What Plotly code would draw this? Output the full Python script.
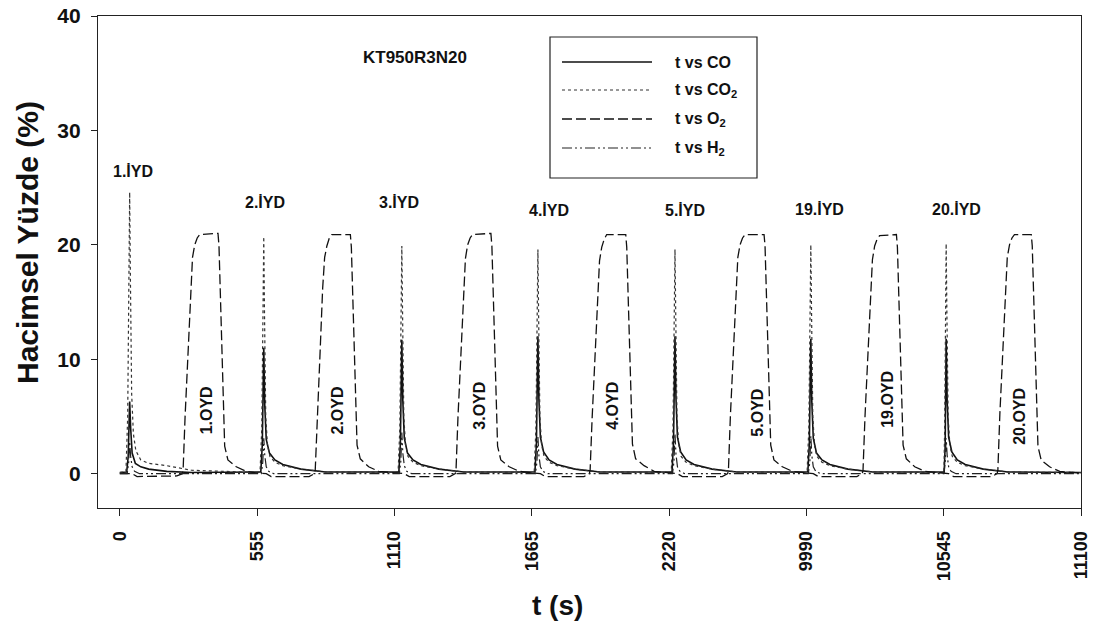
import plotly.graph_objects as go

# ---------------- data ----------------
cycle_no = [1, 2, 3, 4, 5, 19, 20]
cycle_start = [0, 555, 1110, 1665, 2220, 9990, 10545]   # real time, s

# CO (solid) – time within cycle (s) and volume %
co_t = [
    [0, 28, 34, 40, 44, 50, 63, 85, 117, 190, 290, 555],
    [0, 15, 21, 27, 31, 37, 50, 72, 104, 177, 277, 555],
    [0, 18, 24, 30, 34, 40, 53, 75, 107, 180, 280, 555],
    [0, 13, 19, 25, 29, 35, 48, 70, 102, 175, 275, 555],
    [0, 12, 18, 24, 28, 34, 47, 69, 101, 174, 274, 555],
    [0, 6, 12, 18, 22, 28, 41, 63, 95, 168, 268, 555],
    [0, 2, 6, 10, 14, 20, 33, 55, 87, 160, 260, 555],
]
co_v = [
    [0.1, 0.15, 1.5, 6.3, 4.0, 1.8, 0.9, 0.6, 0.4, 0.2, 0.1, 0.1],
    [0.1, 0.15, 2.5, 11.0, 6.0, 3.0, 1.8, 1.2, 0.8, 0.4, 0.15, 0.1],
    [0.1, 0.15, 2.6, 11.7, 6.4, 3.1, 1.8, 1.2, 0.8, 0.4, 0.15, 0.1],
    [0.1, 0.15, 2.7, 12.0, 6.5, 3.2, 1.9, 1.2, 0.8, 0.4, 0.15, 0.1],
    [0.1, 0.15, 2.7, 12.0, 6.6, 3.2, 1.9, 1.2, 0.8, 0.4, 0.15, 0.1],
    [0.1, 0.15, 2.6, 11.8, 6.3, 3.1, 1.8, 1.2, 0.8, 0.4, 0.15, 0.1],
    [0.1, 0.15, 2.4, 11.8, 6.4, 3.2, 1.9, 1.2, 0.8, 0.4, 0.15, 0.1],
]

# CO2 (dotted)
co2_t = [
    [0, 25, 32, 37, 40, 43, 48, 55, 65, 85, 117, 190, 290, 555],
    [0, 12, 19, 24, 27, 30, 35, 42, 52, 72, 104, 177, 277, 555],
    [0, 15, 22, 27, 30, 33, 38, 45, 55, 75, 107, 180, 280, 555],
    [0, 10, 17, 22, 25, 28, 33, 40, 50, 70, 102, 175, 275, 555],
    [0, 9, 16, 21, 24, 27, 32, 39, 49, 69, 101, 174, 274, 555],
    [0, 3, 10, 15, 18, 21, 26, 33, 43, 63, 95, 168, 268, 555],
    [0, 1, 4, 7, 10, 13, 18, 25, 35, 55, 87, 160, 260, 555],
]
co2_v = [
    [0.1, 0.2, 5, 17, 24.6, 17, 7, 3.5, 2.0, 1.2, 0.9, 0.7, 0.3, 0.1],
    [0.1, 0.15, 4, 14, 20.7, 14, 5, 2.5, 1.5, 1.0, 0.7, 0.4, 0.15, 0.1],
    [0.1, 0.15, 4, 14, 19.9, 14, 5, 2.5, 1.5, 1.0, 0.7, 0.4, 0.15, 0.1],
    [0.1, 0.15, 4, 14, 19.6, 13.5, 5, 2.5, 1.5, 1.0, 0.7, 0.4, 0.15, 0.1],
    [0.1, 0.15, 4, 14, 19.6, 14, 5, 2.6, 1.5, 1.0, 0.7, 0.4, 0.15, 0.1],
    [0.1, 0.15, 4, 14, 20.0, 14, 5, 2.5, 1.5, 1.0, 0.7, 0.4, 0.15, 0.1],
    [0.1, 0.15, 4, 14, 20.1, 14, 5, 2.5, 1.5, 1.0, 0.7, 0.4, 0.15, 0.1],
]

# O2 (dashed)
o2_t = [
    [0, 50, 70, 231, 253, 256, 264, 276, 286, 294, 303, 313, 323, 397, 401, 409, 417, 424, 437, 471, 512, 555],
    [0, 37, 57, 210, 232, 235, 243, 255, 265, 273, 282, 292, 302, 377, 381, 389, 397, 404, 417, 451, 492, 555],
    [0, 40, 60, 224, 246, 249, 257, 269, 279, 287, 296, 306, 316, 390, 394, 402, 410, 417, 430, 464, 505, 555],
    [0, 35, 55, 211, 233, 236, 244, 256, 266, 274, 283, 293, 303, 380, 384, 392, 400, 407, 420, 454, 495, 555],
    [0, 34, 54, 215, 237, 240, 248, 260, 270, 278, 287, 297, 307, 384, 388, 396, 404, 411, 424, 458, 499, 555],
    [0, 28, 48, 204, 226, 229, 237, 249, 259, 267, 276, 286, 296, 364, 368, 376, 384, 391, 404, 438, 479, 555],
    [0, 20, 40, 194, 216, 219, 227, 239, 249, 257, 266, 276, 286, 354, 358, 366, 374, 381, 394, 428, 469, 555],
]
o2_v = [
    [0, 0, -0.25, -0.2, 0, 0.3, 5.0, 10.5, 16.0, 18.9, 20.0, 20.6, 20.9, 21.0, 19.9, 14.0, 7.6, 2.4, 1.2, 0.6, 0.2, 0.05],
    [0.05, 0, -0.25, -0.25, 0, 0.3, 5.2, 10.8, 16.2, 18.9, 19.9, 20.6, 20.9, 20.9, 19.8, 13.5, 7.4, 2.5, 1.3, 0.6, 0.2, 0.05],
    [0.05, 0, -0.25, -0.25, 0, 0.3, 5.0, 10.6, 16.0, 18.8, 20.0, 20.6, 20.9, 21.0, 19.9, 13.8, 7.5, 2.4, 1.2, 0.6, 0.2, 0.05],
    [0.05, 0, -0.25, -0.25, 0, 0.3, 4.8, 10.2, 15.6, 18.6, 19.8, 20.5, 20.9, 20.9, 19.8, 13.6, 7.6, 2.6, 1.3, 0.7, 0.2, 0.05],
    [0.05, 0, -0.25, -0.25, 0, 0.3, 5.1, 10.7, 16.1, 18.9, 20.0, 20.6, 20.9, 20.9, 19.9, 13.9, 7.5, 2.5, 1.2, 0.6, 0.2, 0.05],
    [0.05, 0, -0.25, -0.25, 0, 0.3, 5.0, 10.4, 15.9, 18.7, 19.9, 20.5, 20.8, 20.9, 19.8, 13.7, 7.4, 2.5, 1.3, 0.6, 0.2, 0.05],
    [0.05, 0, -0.25, -0.25, 0, 0.3, 5.2, 10.8, 16.2, 18.9, 20.0, 20.6, 20.9, 20.9, 19.9, 14.0, 7.6, 2.4, 1.2, 0.6, 0.2, 0.05],
]

# H2 (dash-dot-dot)
h2_t = [
    [0, 30, 36, 40, 44, 50, 60, 80, 555],
    [0, 17, 23, 27, 31, 37, 47, 67, 555],
    [0, 20, 26, 30, 34, 40, 50, 70, 555],
    [0, 15, 21, 25, 29, 35, 45, 65, 555],
    [0, 14, 20, 24, 28, 34, 44, 64, 555],
    [0, 8, 14, 18, 22, 28, 38, 58, 555],
    [0, 1, 6, 10, 14, 20, 30, 50, 555],
]
h2_v = [
    [0, 0, 1.0, 2.8, 1.5, 0.6, 0.2, 0, 0],
    [0, 0, 1.0, 3.1, 1.6, 0.6, 0.2, 0, 0],
    [0, 0, 1.1, 3.6, 1.8, 0.7, 0.2, 0, 0],
    [0, 0, 1.0, 3.2, 1.6, 0.6, 0.2, 0, 0],
    [0, 0, 1.1, 3.5, 1.7, 0.6, 0.2, 0, 0],
    [0, 0, 1.0, 3.3, 1.6, 0.6, 0.2, 0, 0],
    [0, 0, 1.0, 3.1, 1.6, 0.6, 0.2, 0, 0],
]

# axis ticks (real seconds) and their labels
tick_times = [0, 555, 1110, 1665, 2220, 9990, 10545, 11100]
tick_labels = ["0", "555", "1110", "1665", "2220", "9990", "10545", "11100"]
y_ticks = [0, 10, 20, 30, 40]

# text labels (real seconds, %)
iyd_text = ["1.İYD", "2.İYD", "3.İYD", "4.İYD", "5.İYD", "19.İYD", "20.İYD"]
iyd_t = [53, 586, 1127, 1733, 2283, 10043, 10597]
iyd_y = [26.4, 23.7, 23.7, 23.0, 23.0, 23.1, 23.1]
oyd_text = ["1.OYD", "2.OYD", "3.OYD", "4.OYD", "5.OYD", "19.OYD", "20.OYD"]
oyd_t = [351, 881, 1454, 1992, 2574, 10318, 10851]
oyd_y = [5.5, 5.5, 5.9, 5.9, 5.3, 6.5, 5.0]

legend_names = ["t vs CO", "t vs CO<sub>2</sub>", "t vs O<sub>2</sub>", "t vs H<sub>2</sub>"]

# ---------------- broken time axis ----------------
GAP_FROM, GAP_TO = 2775, 9990


def to_axis(t):
    return t if t <= GAP_FROM else t - (GAP_TO - GAP_FROM)


def series(t_lists, v_lists):
    xs, ys = [], []
    for start, tl, vl in zip(cycle_start, t_lists, v_lists):
        xs += [to_axis(start + t) for t in tl]
        ys += list(vl)
    return xs, ys


FONT = "Arial, Liberation Sans, sans-serif"
INK = "#111111"

line_styles = [
    dict(color="#111111", width=1.6, dash="solid"),
    dict(color="#333333", width=1.2, dash="dot"),
    dict(color="#111111", width=1.3, dash="10px,4px"),
    dict(color="#222222", width=1.2, dash="10px,3px,2px,3px,2px,3px"),
]
series_data = [(co_t, co_v), (co2_t, co2_v), (o2_t, o2_v), (h2_t, h2_v)]

fig = go.Figure()
for name, (tl, vl), line in zip(legend_names, series_data, line_styles):
    x, y = series(tl, vl)
    fig.add_trace(go.Scatter(x=x, y=y, mode="lines", name=name, line=line,
                             showlegend=False))

# plot area geometry (px) used for the hand-drawn legend box
L, T, W, H = 98, 16, 983, 492


def px(xp):
    return (xp - L) / W


def py(yp):
    return 1 - (yp - T) / H


annotations = []
for txt, t, y in zip(iyd_text, iyd_t, iyd_y):
    annotations.append(dict(x=to_axis(t), y=y, xref="x", yref="y", text=f"<b>{txt}</b>",
                            showarrow=False, font=dict(family=FONT, size=16, color=INK)))
for txt, t, y in zip(oyd_text, oyd_t, oyd_y):
    annotations.append(dict(x=to_axis(t), y=y, xref="x", yref="y", text=f"<b>{txt}</b>",
                            textangle=-90, showarrow=False,
                            font=dict(family=FONT, size=16, color=INK)))
annotations.append(dict(x=to_axis(1192), y=36.4, xref="x", yref="y", text="<b>KT950R3N20</b>",
                        showarrow=False, font=dict(family=FONT, size=17, color=INK)))
annotations.append(dict(x=px(557), y=py(605), xref="paper", yref="paper", text="<b>t (s)</b>",
                        showarrow=False, yanchor="middle", xanchor="center",
                        font=dict(family=FONT, size=28, color=INK)))
annotations.append(dict(x=px(27), y=py(243), xref="paper", yref="paper",
                        text="<b>Hacimsel Yüzde (%)</b>", textangle=-90,
                        showarrow=False, xanchor="center", yanchor="middle",
                        font=dict(family=FONT, size=30, color=INK)))

# legend (box, line samples, texts)
shapes = [dict(type="rect", xref="paper", yref="paper",
               x0=px(550), x1=px(757), y0=py(178), y1=py(37),
               line=dict(color="#222", width=1.2), fillcolor="white", layer="above")]
leg_rows = [62, 90, 119, 148]
for name, line, yrow in zip(legend_names, line_styles, leg_rows):
    shapes.append(dict(type="line", xref="paper", yref="paper",
                       x0=px(562), x1=px(652), y0=py(yrow), y1=py(yrow),
                       line=dict(color=line["color"], width=line["width"], dash=line["dash"]),
                       layer="above"))
    annotations.append(dict(x=px(673), y=py(yrow), xref="paper", yref="paper",
                            text=f"<b>{name}</b>", showarrow=False,
                            xanchor="left", yanchor="middle",
                            font=dict(family=FONT, size=16, color=INK)))

fig.update_layout(
    template="none",
    width=1096, height=627,
    margin=dict(l=L, r=1096 - L - W, t=T, b=627 - T - H, pad=0),
    paper_bgcolor="white", plot_bgcolor="white",
    font=dict(family=FONT, color=INK),
    annotations=annotations,
    shapes=shapes,
    showlegend=False,
)
fig.update_xaxes(
    range=[to_axis(-88), to_axis(11100)],
    tickvals=[to_axis(t) for t in tick_times], ticktext=tick_labels,
    tickangle=-90, ticks="outside", ticklen=7, tickcolor="#222", tickwidth=1.2,
    tickfont=dict(family=FONT, size=18, color=INK, weight="bold"),
    ticklabelstandoff=8,
    showline=True, linecolor="#222", linewidth=1.2, mirror=True,
    showgrid=False, zeroline=False, automargin=False,
)
fig.update_yaxes(
    range=[-3, 40], tickvals=y_ticks,
    ticks="outside", ticklen=6, tickcolor="#222", tickwidth=1.2,
    tickfont=dict(family=FONT, size=21, color=INK, weight="bold"),
    ticklabelstandoff=6,
    showline=True, linecolor="#222", linewidth=1.2, mirror=True,
    showgrid=False, zeroline=False, automargin=False,
)

fig.write_html("out.html")
